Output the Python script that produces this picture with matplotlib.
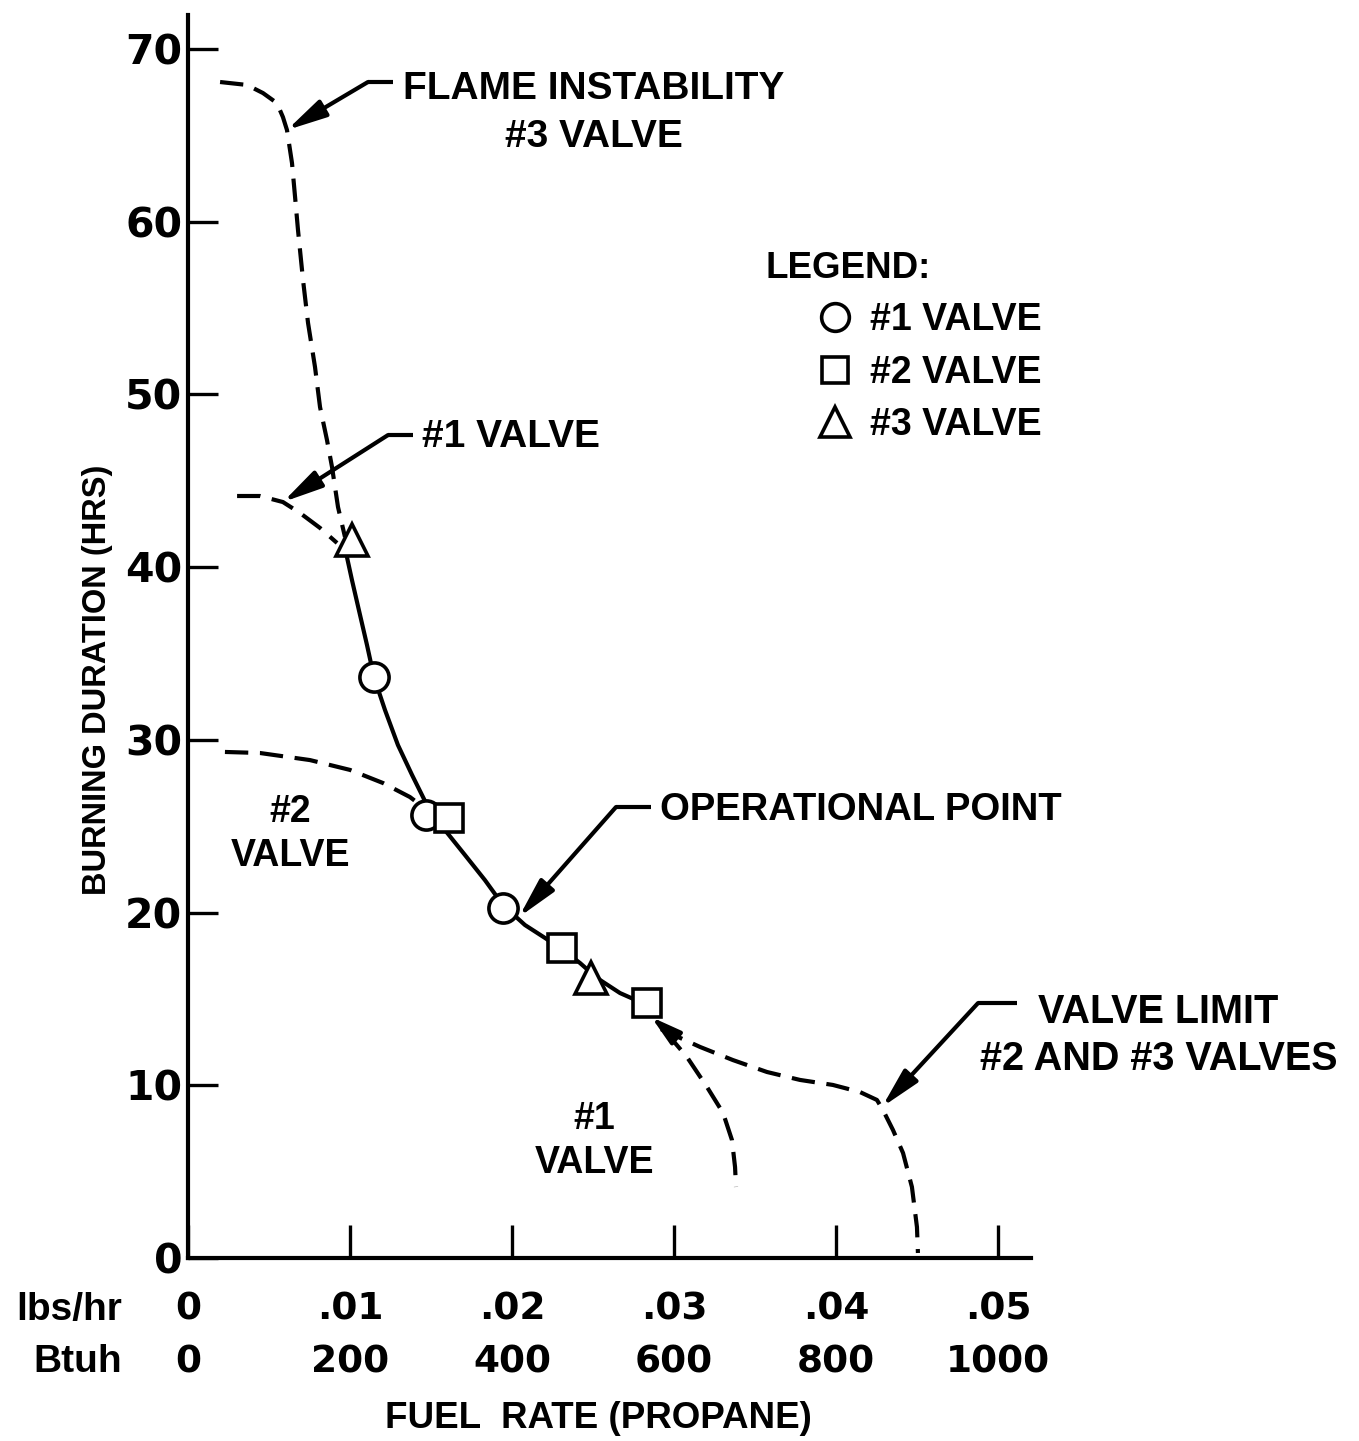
import matplotlib
matplotlib.use("Agg")
import matplotlib.pyplot as plt

# Values: fuel rate (lbs/hr) vs burning duration (hrs)
circle_x = [0.01148, 0.01469, 0.01944]
circle_y = [33.64, 25.65, 20.27]
square_x = [0.01611, 0.02309, 0.02833]
square_y = [25.48, 17.95, 14.76]
triangle_x = [0.01012, 0.02488]
triangle_y = [41.57, 16.21]

# faired solid curve through the test points
main_x = [0.00969, 0.01012, 0.01062, 0.01105, 0.01148, 0.01216, 0.01296, 0.01383,
          0.01475, 0.01586, 0.01710, 0.01833, 0.01944, 0.02080, 0.02204, 0.02315,
          0.02420, 0.02525, 0.02667, 0.02833]
main_y = [41.11, 39.26, 37.23, 35.49, 33.64, 31.73, 29.70, 27.97,
          26.23, 24.78, 23.33, 21.88, 20.44, 19.28, 18.53, 17.83,
          17.08, 16.21, 15.34, 14.65]

# dashed extrapolations
valve3_x = [0.00198, 0.00364, 0.00463, 0.00549, 0.00586, 0.00611, 0.00642, 0.00661,
            0.00679, 0.00710, 0.00741, 0.00784, 0.00815, 0.00858, 0.00889, 0.00926, 0.00969]
valve3_y = [68.09, 67.92, 67.45, 66.87, 66.06, 65.31, 63.40, 61.43,
            59.52, 56.63, 54.14, 51.59, 49.27, 47.36, 45.80, 43.48, 41.75]
valve1_top_x = [0.00303, 0.00444, 0.00586, 0.00691, 0.00815, 0.00920]
valve1_top_y = [44.12, 44.12, 43.77, 43.14, 42.27, 41.40]
valve2_top_x = [0.00228, 0.00444, 0.00753, 0.01000, 0.01204, 0.01370, 0.01475]
valve2_top_y = [29.30, 29.24, 28.83, 28.26, 27.50, 26.69, 25.94]
limit_x = [0.02920, 0.02957, 0.03161, 0.03364, 0.03574, 0.03778, 0.03981, 0.04148,
           0.04253, 0.04290, 0.04352, 0.04414, 0.04469, 0.04500, 0.04506]
limit_y = [13.25, 13.09, 12.22, 11.46, 10.77, 10.31, 10.02, 9.61,
           9.15, 8.57, 7.41, 6.08, 4.11, 1.79, 0.29]
valve1_low_x = [0.02950, 0.02975, 0.03080, 0.03204, 0.03303, 0.03358, 0.03377, 0.03383]
valve1_low_y = [13.10, 12.80, 11.64, 9.90, 8.40, 6.83, 5.27, 4.11]

x_ticks = [0, 0.01, 0.02, 0.03, 0.04, 0.05]
lbs_labels = ["0", ".01", ".02", ".03", ".04", ".05"]
btuh_labels = ["0", "200", "400", "600", "800", "1000"]
y_ticks = [0, 10, 20, 30, 40, 50, 60, 70]

LW = 3.0
WORD = dict(family=["Liberation Sans", "DejaVu Sans"], weight="bold")
NUM = dict(family=["DejaVu Sans"], weight="bold")

fig = plt.figure(figsize=(13.59, 14.41), dpi=100)
ax = fig.add_axes([188 / 1359, 183 / 1441, 843 / 1359, 1243 / 1441])
ax.set_xlim(0, 0.05204)
ax.set_ylim(0, 71.97)

for s in ["top", "right"]:
    ax.spines[s].set_visible(False)
for s in ["left", "bottom"]:
    ax.spines[s].set_linewidth(LW)

dash = dict(color="black", lw=LW, ls=(0, (5.6, 2.8)))
ax.plot(valve3_x, valve3_y, **dash)
ax.plot(valve1_top_x, valve1_top_y, **dash)
ax.plot(valve2_top_x, valve2_top_y, **dash)
ax.plot(limit_x, limit_y, **dash)
ax.plot(valve1_low_x, valve1_low_y, **dash)
ax.plot(main_x, main_y, color="black", lw=LW)

mk = dict(ls="none", mfc="white", mec="black", mew=2.6, zorder=4)
ax.plot(circle_x, circle_y, "o", ms=21, label="#1 VALVE", **mk)
ax.plot(square_x, square_y, "s", ms=20, label="#2 VALVE", **mk)
ax.plot(triangle_x, triangle_y, "^", ms=23, label="#3 VALVE", **mk)

# ticks
ax.set_yticks(y_ticks)
ax.set_yticklabels([str(v) for v in y_ticks], fontsize=29.5, **NUM)
ax.tick_params(axis="y", direction="in", length=21.5, width=2.4, pad=4)
ax.set_xticks(x_ticks)
ax.tick_params(axis="x", direction="in", length=24, width=2.4, labelbottom=False)

xt = ax.get_xaxis_transform()
for xv, a, b in zip(x_ticks, lbs_labels, btuh_labels):
    ax.text(xv, -0.0418, a, transform=xt, ha="center", va="center", fontsize=27, **NUM)
    ax.text(xv, -0.0837, b, transform=xt, ha="center", va="center", fontsize=27, **NUM)
ax.text(-0.0783, -0.0418, "lbs/hr", transform=ax.transAxes, ha="right", va="center", fontsize=28, **WORD)
ax.text(-0.0783, -0.0837, "Btuh", transform=ax.transAxes, ha="right", va="center", fontsize=28, **WORD)
ax.text(0.487, -0.1295, "FUEL  RATE (PROPANE)", transform=ax.transAxes,
        ha="center", va="center", fontsize=26.5, **WORD)
ax.text(-0.1068, 0.465, "BURNING DURATION (HRS)", transform=ax.transAxes, rotation=90,
        ha="center", va="center", fontsize=23.5, **WORD)


def leader(tip, elbow, end):
    ax.plot([elbow[0], end[0]], [elbow[1], end[1]], color="black", lw=LW,
            solid_capstyle="butt")
    ax.annotate("", xy=tip, xytext=elbow,
                arrowprops=dict(arrowstyle="-|>,head_length=1.2,head_width=0.28",
                                color="black", lw=LW, shrinkA=0, shrinkB=0,
                                mutation_scale=20))


leader((0.00611, 65.31), (0.01111, 68.09), (0.01265, 68.09))
ax.text(0.02506, 66.3, "FLAME INSTABILITY\n#3 VALVE", ha="center", va="center",
        multialignment="center", fontsize=28, linespacing=1.45, **WORD)

leader((0.00586, 43.77), (0.01235, 47.65), (0.01389, 47.65))
ax.text(0.01444, 47.54, "#1 VALVE", ha="left", va="center", fontsize=28, **WORD)

leader((0.02043, 19.74), (0.02642, 26.11), (0.02858, 26.11))
ax.text(0.02914, 25.94, "OPERATIONAL POINT", ha="left", va="center", fontsize=27.5, **WORD)

leader((0.04284, 8.74), (0.04877, 14.76), (0.05117, 14.76))
ax.text(0.0599, 12.9, "VALVE LIMIT\n#2 AND #3 VALVES", ha="center", va="center",
        multialignment="center", fontsize=28.5, linespacing=1.3, **WORD)

# small arrowhead where the faired curve turns dashed
ax.annotate("", xy=(0.02860, 13.95), xytext=(0.02975, 13.05),
            arrowprops=dict(arrowstyle="-|>,head_length=0.9,head_width=0.25",
                            color="black", lw=LW, shrinkA=0, shrinkB=0, mutation_scale=20))

ax.text(0.0063, 24.55, "#2\nVALVE", ha="center", va="center", multialignment="center",
        fontsize=27, linespacing=1.3, **WORD)
ax.text(0.0251, 6.77, "#1\nVALVE", ha="center", va="center", multialignment="center",
        fontsize=27, linespacing=1.3, **WORD)

ax.text(0.03562, 57.32, "LEGEND:", ha="left", va="center", fontsize=26.5, **WORD)
ax.legend(loc="upper left", bbox_to_anchor=(0.745, 0.769), frameon=False,
          prop=dict(size=27, **WORD), handlelength=1.0, handletextpad=0.44,
          labelspacing=0.44, borderpad=0, borderaxespad=0, markerscale=0.95)

fig.savefig("out.png", dpi=100, facecolor="white")
